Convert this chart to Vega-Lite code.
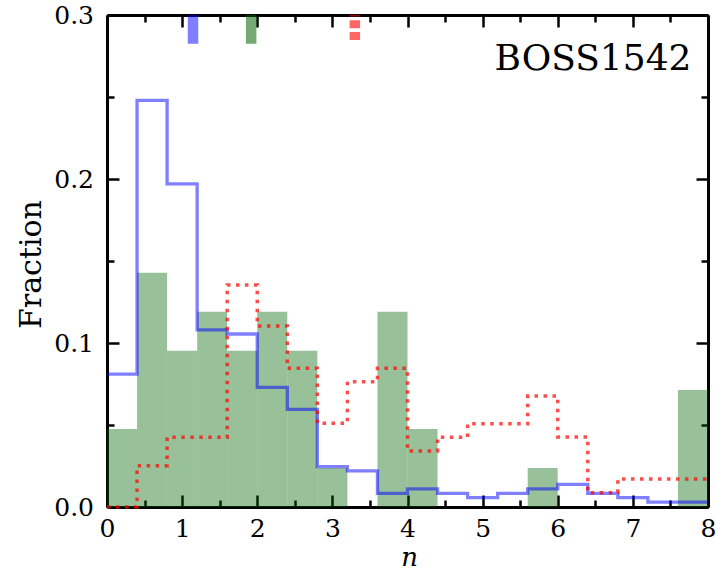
{
  "$schema": "https://vega.github.io/schema/vega-lite/v6.json",
  "width": 601,
  "height": 492,
  "autosize": "none",
  "padding": {"left": 107, "top": 15, "right": 8, "bottom": 64},
  "background": "white",
  "config": {
    "view": {"stroke": null},
    "font": "DejaVu Serif",
    "axis": {
      "grid": false,
      "domainColor": "black",
      "domainWidth": 3,
      "tickColor": "black",
      "tickWidth": 2.5,
      "labelFont": "DejaVu Serif",
      "labelFontSize": 25,
      "labelColor": "black",
      "labelFlush": false,
      "labelOverlap": false,
      "titleFont": "DejaVu Serif",
      "titleFontWeight": "normal",
      "titleColor": "black",
      "zindex": 1
    }
  },
  "datasets": {
    "green": [
      {"x0": 0.0, "x1": 0.4, "frac": 0.0476},
      {"x0": 0.4, "x1": 0.8, "frac": 0.1429},
      {"x0": 0.8, "x1": 1.2, "frac": 0.0952},
      {"x0": 1.2, "x1": 1.6, "frac": 0.119},
      {"x0": 1.6, "x1": 2.0, "frac": 0.0952},
      {"x0": 2.0, "x1": 2.4, "frac": 0.119},
      {"x0": 2.4, "x1": 2.8, "frac": 0.0952},
      {"x0": 2.8, "x1": 3.2, "frac": 0.0238},
      {"x0": 3.6, "x1": 4.0, "frac": 0.119},
      {"x0": 4.0, "x1": 4.4, "frac": 0.0476},
      {"x0": 5.6, "x1": 6.0, "frac": 0.0238},
      {"x0": 7.6, "x1": 8.0, "frac": 0.0714}
    ],
    "blue": [
      {"x": 0.0, "frac": 0.081},
      {"x": 0.4, "frac": 0.248},
      {"x": 0.8, "frac": 0.197},
      {"x": 1.2, "frac": 0.108},
      {"x": 1.6, "frac": 0.1055},
      {"x": 2.0, "frac": 0.073},
      {"x": 2.4, "frac": 0.0595},
      {"x": 2.8, "frac": 0.0246},
      {"x": 3.2, "frac": 0.022},
      {"x": 3.6, "frac": 0.0083},
      {"x": 4.0, "frac": 0.011},
      {"x": 4.4, "frac": 0.0083},
      {"x": 4.8, "frac": 0.0057},
      {"x": 5.2, "frac": 0.0083},
      {"x": 5.6, "frac": 0.011},
      {"x": 6.0, "frac": 0.0138},
      {"x": 6.4, "frac": 0.0083},
      {"x": 6.8, "frac": 0.0057},
      {"x": 7.2, "frac": 0.003},
      {"x": 7.6, "frac": 0.003},
      {"x": 8.0, "frac": 0.003}
    ],
    "red": [
      {"x": 0.0, "frac": 0.0},
      {"x": 0.4, "frac": 0.0252},
      {"x": 0.8, "frac": 0.0425},
      {"x": 1.2, "frac": 0.0425},
      {"x": 1.6, "frac": 0.1354},
      {"x": 2.0, "frac": 0.1104},
      {"x": 2.4, "frac": 0.0846},
      {"x": 2.8, "frac": 0.051},
      {"x": 3.2, "frac": 0.0764},
      {"x": 3.6, "frac": 0.0846},
      {"x": 4.0, "frac": 0.0341},
      {"x": 4.4, "frac": 0.0425},
      {"x": 4.8, "frac": 0.0508},
      {"x": 5.2, "frac": 0.0508},
      {"x": 5.6, "frac": 0.0677},
      {"x": 6.0, "frac": 0.0427},
      {"x": 6.4, "frac": 0.0087},
      {"x": 6.8, "frac": 0.0171},
      {"x": 7.2, "frac": 0.0171},
      {"x": 7.6, "frac": 0.0171},
      {"x": 8.0, "frac": 0.0171}
    ],
    "markers": [
      {"series": "blue", "mean": 1.145, "lo": 0.2825, "hi": 0.3},
      {"series": "green", "mean": 1.919, "lo": 0.2825, "hi": 0.3},
      {"series": "red", "mean": 3.299, "lo": 0.2825, "hi": 0.3}
    ],
    "labels": [
      {"text": "BOSS1542", "x": 7.78, "y": 0.2665}
    ]
  },
  "resolve": {"axis": {"x": "independent", "y": "independent"}},
  "layer": [
    {
      "data": {"name": "green"},
      "mark": {"type": "bar", "color": "#006400", "opacity": 0.4, "strokeWidth": 0},
      "encoding": {
        "x": {
          "field": "x0", "type": "quantitative",
          "scale": {"domain": [0, 8], "nice": false, "zero": false},
          "axis": {"orient": "bottom", "values": [0, 1, 2, 3, 4, 5, 6, 7, 8], "format": "d", "tickSize": -12, "labelPadding": 21,
                   "title": "n", "titleFontSize": 26, "titleFontStyle": "italic", "titleBaseline": "alphabetic", "titleY": 58, "titleX": 302}
        },
        "x2": {"field": "x1"},
        "y": {
          "field": "frac", "type": "quantitative",
          "scale": {"domain": [0, 0.3], "nice": false, "zero": true},
          "axis": {"orient": "left", "values": [0, 0.1, 0.2, 0.3], "format": ".1f", "tickSize": -12, "labelPadding": 25.5,
                   "title": "Fraction", "titleFontSize": 30, "titleBaseline": "alphabetic", "titleAngle": -90, "titleX": -67, "titleY": 249}
        },
        "y2": {"datum": 0}
      }
    },
    {
      "data": {"name": "blue"},
      "mark": {"type": "line", "interpolate": "step-after", "color": "#0000ff", "opacity": 0.5, "strokeWidth": 3.3, "strokeJoin": "miter", "strokeCap": "butt"},
      "encoding": {
        "x": {"field": "x", "type": "quantitative",
              "axis": {"orient": "top", "values": [0, 1, 2, 3, 4, 5, 6, 7, 8], "tickSize": -12, "labels": false, "title": null}},
        "y": {"field": "frac", "type": "quantitative",
              "axis": {"orient": "right", "values": [0, 0.1, 0.2, 0.3], "tickSize": -12, "labels": false, "title": null}}
      }
    },
    {
      "data": {"name": "red"},
      "mark": {"type": "line", "interpolate": "step-after", "color": "#ff0000", "opacity": 0.7, "strokeWidth": 3.5, "strokeDash": [3.5, 5.5], "strokeCap": "butt"},
      "encoding": {
        "x": {"field": "x", "type": "quantitative",
              "axis": {"orient": "bottom", "values": [0.5, 1.5, 2.5, 3.5, 4.5, 5.5, 6.5, 7.5], "tickSize": -7, "labels": false, "domain": false, "title": null}},
        "y": {"field": "frac", "type": "quantitative",
              "axis": {"orient": "left", "values": [0.05, 0.15, 0.25], "tickSize": -7, "labels": false, "domain": false, "title": null}}
      }
    },
    {
      "data": {"name": "markers"},
      "mark": {"type": "rule", "strokeWidth": 10.5, "strokeCap": "butt", "strokeDashOffset": 8},
      "encoding": {
        "x": {"field": "mean", "type": "quantitative",
              "axis": {"orient": "top", "values": [0.5, 1.5, 2.5, 3.5, 4.5, 5.5, 6.5, 7.5], "tickSize": -7, "labels": false, "domain": false, "title": null}},
        "y": {"field": "lo", "type": "quantitative",
              "axis": {"orient": "right", "values": [0.05, 0.15, 0.25], "tickSize": -7, "labels": false, "domain": false, "title": null}},
        "y2": {"field": "hi"},
        "color": {"field": "series", "type": "nominal", "legend": null,
                  "scale": {"domain": ["blue", "green", "red"], "range": ["#0000ff", "#006400", "#ff0000"]}},
        "opacity": {"field": "series", "type": "nominal", "legend": null,
                    "scale": {"domain": ["blue", "green", "red"], "range": [0.5, 0.6, 0.7]}},
        "strokeDash": {"field": "series", "type": "nominal", "legend": null,
                       "scale": {"domain": ["blue", "green", "red"], "range": [[1, 0], [1, 0], [8, 3.7]]}}
      }
    },
    {
      "data": {"name": "labels"},
      "mark": {"type": "text", "align": "right", "baseline": "alphabetic", "font": "DejaVu Serif", "fontSize": 36, "color": "black"},
      "encoding": {
        "x": {"field": "x", "type": "quantitative", "axis": null},
        "y": {"field": "y", "type": "quantitative", "axis": null},
        "text": {"field": "text"}
      }
    }
  ]
}
